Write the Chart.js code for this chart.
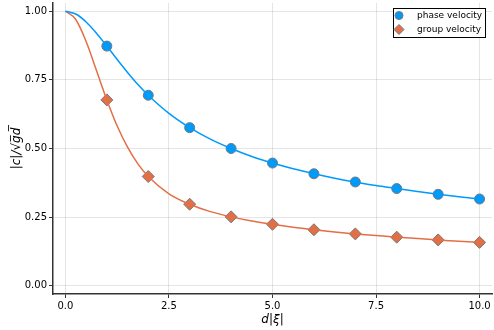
<!DOCTYPE html>
<html>
<head>
<meta charset="utf-8">
<script src="https://cdn.jsdelivr.net/npm/chart.js@4.4.1/dist/chart.umd.min.js"></script>
<style>
  html, body { margin: 0; padding: 0; background: #fff; }
  #wrap { width: 494px; height: 330px; }
</style>
</head>
<body>
<div id="wrap"><canvas id="disp"></canvas></div>
<script>
// curve samples (d|xi|, |c|/sqrt(gd))
var curveX = [0, 0.25, 0.5, 0.75, 1, 1.25, 1.5, 1.75, 2, 2.5, 3, 3.5, 4, 4.5, 5, 5.5, 6, 6.5, 7, 7.5, 8, 8.5, 9, 9.5, 10];
var phaseCurve = [1, 0.990, 0.961, 0.920, 0.873, 0.824, 0.777, 0.733, 0.694, 0.628, 0.576, 0.534, 0.500, 0.471, 0.447, 0.426, 0.408, 0.392, 0.378, 0.365, 0.354, 0.343, 0.333, 0.324, 0.316];
var groupCurve = [1, 0.970, 0.890, 0.784, 0.677, 0.582, 0.505, 0.444, 0.398, 0.335, 0.297, 0.270, 0.251, 0.236, 0.224, 0.213, 0.204, 0.196, 0.189, 0.183, 0.177, 0.172, 0.167, 0.162, 0.158];

// markers
var markX = [1, 2, 3, 4, 5, 6, 7, 8, 9, 10];
var phaseMarks = [0.873, 0.694, 0.576, 0.500, 0.447, 0.408, 0.378, 0.354, 0.333, 0.316];
var groupMarks = [0.677, 0.398, 0.297, 0.251, 0.224, 0.204, 0.189, 0.177, 0.167, 0.158];

var xTicks = [0, 2.5, 5, 7.5, 10];
var yTicks = [0, 0.25, 0.5, 0.75, 1];

var blue = 'rgb(0, 154, 250)';
var orange = 'rgb(227, 111, 71)';

function pts(xs, ys) {
    return xs.map(function (x, i) { return { x: x, y: ys[i] }; });
}

// legend drawn like the Plots.jl box, only for marker series
var boxLegend = {
    id: 'boxLegend',
    afterDraw: function (chart) {
        var ctx = chart.ctx;
        var left = 393, top = 8, w = 92, h = 29;
        ctx.save();
        ctx.fillStyle = '#fff';
        ctx.fillRect(left, top, w, h);
        ctx.strokeStyle = '#000';
        ctx.lineWidth = 1;
        ctx.strokeRect(left + 0.5, top + 0.5, w, h);
        ctx.font = '9px "DejaVu Sans"';
        ctx.textBaseline = 'middle';
        var items = chart.data.datasets.filter(function (d) { return d.inLegend; });
        items.forEach(function (d, i) {
            var cy = top + 7.5 + i * 14;
            ctx.fillStyle = d.backgroundColor;
            ctx.strokeStyle = d.borderColor;
            ctx.lineWidth = 1;
            Chart.helpers.drawPoint(ctx, { pointStyle: d.pointStyle, radius: d.pointStyle === 'rectRot' ? 5 : 4, borderWidth: 1 }, 399, cy);
            ctx.fillStyle = '#000';
            ctx.fillText(d.label, 417, cy + 0.5);
        });
        ctx.restore();
    }
};

var layout = {
    type: 'scatter',
    data: {
        datasets: [{
            label: 'phase curve',
            data: pts(curveX, phaseCurve),
            showLine: true,
            borderColor: blue,
            borderWidth: 1.5,
            pointRadius: 0,
            cubicInterpolationMode: 'monotone',
        }, {
            label: 'group curve',
            data: pts(curveX, groupCurve),
            showLine: true,
            borderColor: orange,
            borderWidth: 1.5,
            pointRadius: 0,
            cubicInterpolationMode: 'monotone',
        }, {
            label: 'phase velocity',
            inLegend: true,
            data: pts(markX, phaseMarks),
            pointStyle: 'circle',
            pointRadius: 5,
            backgroundColor: blue,
            borderColor: '#777',
            borderWidth: 1,
        }, {
            label: 'group velocity',
            inLegend: true,
            data: pts(markX, groupMarks),
            pointStyle: 'rectRot',
            pointRadius: 6,
            backgroundColor: orange,
            borderColor: '#777',
            borderWidth: 1,
        }]
    },
    options: {
        responsive: true,
        maintainAspectRatio: false,
        animation: false,
        layout: { autoPadding: false, padding: { left: 0, right: 2, top: 3, bottom: 0 } },
        plugins: {
            legend: { display: false },
            tooltip: { enabled: false },
        },
        scales: {
            x: {
                type: 'linear',
                min: -0.3,
                max: 10.3,
                afterBuildTicks: function (s) { s.ticks = xTicks.map(function (v) { return { value: v }; }); },
                afterFit: function (s) { s.height = 36; s.paddingLeft = 0; s.paddingRight = 0; },
                grid: { color: 'rgba(0,0,0,0.1)', tickLength: 4, tickColor: '#333' },
                border: { color: '#333', width: 1.5 },
                ticks: {
                    color: '#000',
                    padding: 2,
                    maxRotation: 0,
                    font: { family: 'DejaVu Sans', size: 10 },
                    callback: function (v) { return v.toFixed(1); }
                },
                title: {
                    display: true,
                    text: 'd|ξ|',
                    color: '#000',
                    padding: { top: 0, bottom: 3 },
                    font: { family: 'DejaVu Sans', size: 12, style: 'italic' }
                }
            },
            y: {
                min: -0.03,
                max: 1.03,
                afterBuildTicks: function (s) { s.ticks = yTicks.map(function (v) { return { value: v }; }); },
                afterFit: function (s) { s.width = 53; s.paddingTop = 0; s.paddingBottom = 0; },
                grid: { color: 'rgba(0,0,0,0.1)', tickLength: 4, tickColor: '#333' },
                border: { color: '#333', width: 1.5 },
                ticks: {
                    color: '#000',
                    padding: 2,
                    font: { family: 'DejaVu Sans', size: 10 },
                    callback: function (v) { return v.toFixed(2); }
                },
                title: {
                    display: true,
                    text: '|c|/√g̅d̅',
                    color: '#000',
                    padding: { top: 10, bottom: 0 },
                    font: { family: 'DejaVu Sans', size: 12, style: 'italic' }
                }
            }
        }
    },
    plugins: [boxLegend]
};

new Chart(document.getElementById('disp'), layout);
</script>
</body>
</html>
